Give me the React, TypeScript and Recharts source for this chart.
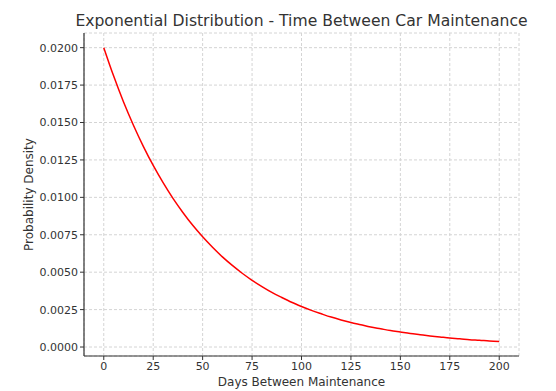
import React from "react";
import { CartesianGrid, Label, Line, LineChart, XAxis, YAxis } from "recharts";

// days between maintenance and the density
const days = [
  0, 5, 10, 15, 20, 25, 30, 35, 40, 45, 50, 55, 60, 65, 70, 75, 80, 85, 90, 95, 100,
  105, 110, 115, 120, 125, 130, 135, 140, 145, 150, 155, 160, 165, 170, 175, 180, 185,
  190, 195, 200,
];
const density = [
  0.02, 0.0181, 0.01637, 0.01482, 0.01341, 0.01213, 0.01098, 0.00993, 0.00899, 0.00813,
  0.00736, 0.00666, 0.00602, 0.00545, 0.00493, 0.00446, 0.00404, 0.00365, 0.00331,
  0.00299, 0.00271, 0.00245, 0.00222, 0.002, 0.00181, 0.00164, 0.00149, 0.00134, 0.00122,
  0.0011, 0.001, 0.0009, 0.00082, 0.00074, 0.00067, 0.0006, 0.00055, 0.00049, 0.00045,
  0.0004, 0.00037,
];
const xTicks = [0, 25, 50, 75, 100, 125, 150, 175, 200];
const yTicks = [0, 0.0025, 0.005, 0.0075, 0.01, 0.0125, 0.015, 0.0175, 0.02];

const data = days.map((d, i) => ({ day: d, pdf: density[i] }));

const font = "'DejaVu Sans', sans-serif";
const tickStyle = { fontSize: 11, fill: "#333", fontFamily: font };

export default function App() {
  return (
    <div style={{ position: "absolute", left: 0, top: 0, width: 556, height: 391, background: "#fff" }}>
      <div
        style={{
          position: "absolute",
          top: 12,
          left: 0,
          width: 603,
          textAlign: "center",
          fontFamily: font,
          fontSize: 15.6,
          color: "#333",
        }}
      >
        Exponential Distribution - Time Between Car Maintenance
      </div>
      <LineChart width={556} height={391} data={data} margin={{ top: 33, right: 37, left: 0, bottom: 0 }}>
        <CartesianGrid stroke="#d4d4d4" strokeDasharray="3 2" />
        <XAxis
          dataKey="day"
          type="number"
          domain={[-10, 210]}
          ticks={xTicks}
          height={35}
          tick={tickStyle}
          tickSize={4}
          tickMargin={2}
          stroke="#333"
          axisLine={{ stroke: "#333", strokeWidth: 1.2 }}
        >
          <Label value="Days Between Maintenance" position="insideBottom" offset={5} style={{ ...tickStyle, fontSize: 12 }} />
        </XAxis>
        <YAxis
          type="number"
          domain={[-0.0006, 0.02098]}
          ticks={yTicks}
          width={84}
          tick={tickStyle}
          tickSize={4}
          tickMargin={2}
          tickFormatter={(v: number) => v.toFixed(4)}
          stroke="#333"
          axisLine={{ stroke: "#333", strokeWidth: 1.2 }}
        >
          <Label
            value="Probability Density"
            angle={-90}
            position="insideLeft"
            offset={29}
            style={{ ...tickStyle, fontSize: 12, textAnchor: "middle" }}
          />
        </YAxis>
        <Line
          type="monotone"
          dataKey="pdf"
          stroke="#ff0000"
          strokeWidth={1.5}
          dot={false}
          isAnimationActive={false}
        />
      </LineChart>
    </div>
  );
}
